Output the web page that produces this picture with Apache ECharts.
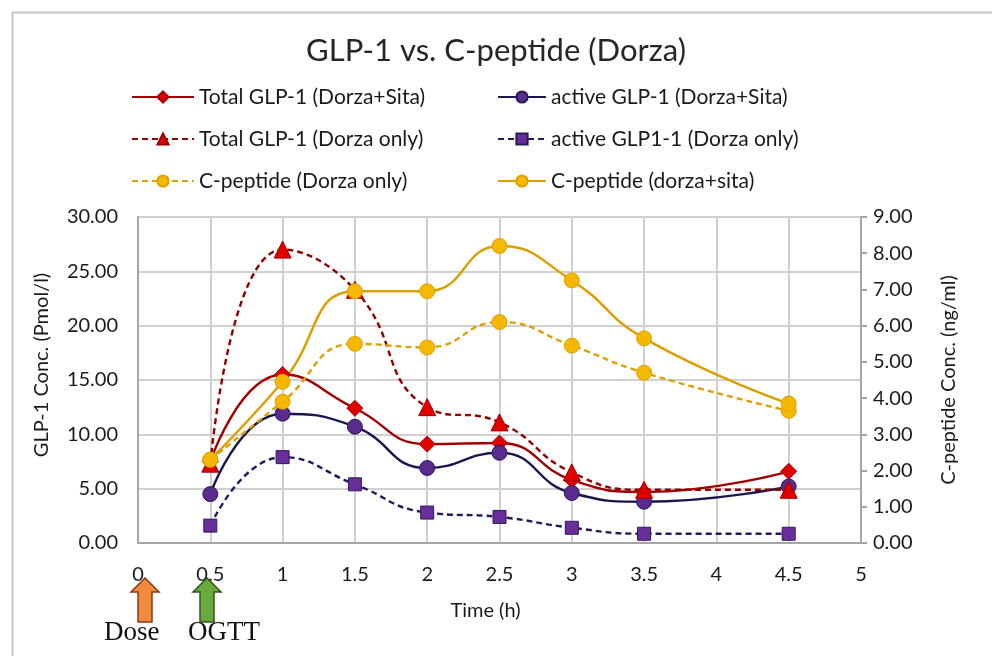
<!DOCTYPE html>
<html>
<head>
<meta charset="utf-8">
<script src="https://cdn.jsdelivr.net/npm/echarts@6/dist/echarts.min.js"></script>
<style>
  html, body { margin: 0; padding: 0; background: #fff; }
  #chart { width: 992px; height: 656px; }
</style>
</head>
<body>
<div id="chart"></div>
<script>
// Sampling times (h)
const times = [0.5, 1, 1.5, 2, 2.5, 3, 3.5, 4.5];

// GLP-1 concentrations (pmol/l), left axis
const totalGlpDorzaSita = [7.5, 15.5, 12.4, 9.1, 9.2, 5.8, 4.7, 6.6];
const activeGlpDorzaSita = [4.5, 11.9, 10.7, 6.9, 8.3, 4.6, 3.8, 5.2];
const totalGlpDorzaOnly = [7.3, 27.0, 23.3, 12.5, 11.1, 6.5, 4.9, 4.9];
const activeGlpDorzaOnly = [1.6, 7.9, 5.4, 2.8, 2.4, 1.4, 0.85, 0.85];

// C-peptide concentrations (ng/ml), right axis
const cpepDorzaOnly = [2.3, 3.9, 5.5, 5.4, 6.1, 5.45, 4.7, 3.65];
const cpepDorzaSita = [2.3, 4.45, 6.95, 6.95, 8.2, 7.25, 5.65, 3.85];

const seriesNames = [
  'Total GLP-1 (Dorza+Sita)',
  'active GLP-1 (Dorza+Sita)',
  'Total GLP-1 (Dorza only)',
  'active GLP1-1 (Dorza only)',
  'C-peptide (Dorza only)',
  'C-peptide (dorza+sita)'
];

const FONT = 'Lato';
const pairs = vals => times.map((t, i) => [t, vals[i]]);

function lineSeries(name, vals, yIdx, lineColor, dashed, symbol, size, fill, border) {
  return {
    name: name,
    type: 'line',
    yAxisIndex: yIdx,
    data: pairs(vals),
    smooth: 0.5,
    symbol: symbol,
    symbolSize: size,
    showAllSymbol: true,
    lineStyle: { color: lineColor, width: 2.4, type: dashed ? [6, 4] : 'solid' },
    itemStyle: { color: fill, borderColor: border, borderWidth: 1 },
    emphasis: { disabled: true },
    z: 3
  };
}

const chart = echarts.init(document.getElementById('chart'), null, { renderer: 'canvas' });

const legendText = { fontFamily: FONT, fontSize: 21, color: '#1a1a1a', lineHeight: 22 };
const tickText = { fontFamily: FONT, fontSize: 20, color: '#1a1a1a' };

const option = {
  animation: false,
  backgroundColor: '#fff',
  title: {
    text: 'GLP-1 vs. C-peptide (Dorza)',
    left: 'center',
    top: 30,
    textStyle: { fontFamily: FONT, fontSize: 31, fontWeight: 'normal', color: '#262626' }
  },
  legend: [
    {
      orient: 'vertical',
      left: 131,
      top: 86,
      padding: 0,
      itemWidth: 62,
      itemHeight: 14,
      itemGap: 20,
      textStyle: legendText,
      data: [seriesNames[0], seriesNames[2], seriesNames[4]]
    },
    {
      orient: 'vertical',
      left: 497,
      top: 86,
      padding: 0,
      itemWidth: 48,
      itemHeight: 14,
      itemGap: 20,
      textStyle: legendText,
      data: [seriesNames[1], seriesNames[3], seriesNames[5]]
    }
  ],
  grid: { left: 138, right: 131, top: 217, bottom: 113, containLabel: false },
  xAxis: {
    type: 'value',
    min: 0, max: 5, interval: 0.5,
    name: 'Time (h)',
    nameLocation: 'middle',
    nameGap: 58,
    nameTextStyle: Object.assign({}, tickText, { padding: [0, 28, 0, 0] }),
    axisLine: { lineStyle: { color: '#a6a6a6', width: 2 } },
    axisTick: { show: false },
    axisLabel: Object.assign({}, tickText, { margin: 22 }),
    splitLine: { show: true, lineStyle: { color: '#d0d0d0', width: 2 } }
  },
  yAxis: [
    {
      type: 'value',
      min: 0, max: 30, interval: 5,
      name: 'GLP-1 Conc. (Pmol/l)',
      nameLocation: 'middle',
      nameGap: 86,
      nameTextStyle: Object.assign({}, tickText, { padding: [0, 0, 0, 30] }),
      axisLine: { show: true, lineStyle: { color: '#a6a6a6', width: 2 } },
      axisTick: { show: false },
      axisLabel: Object.assign({}, tickText, { margin: 20, formatter: v => v.toFixed(2) }),
      splitLine: { show: true, lineStyle: { color: '#d0d0d0', width: 2 } }
    },
    {
      type: 'value',
      position: 'right',
      min: 0, max: 9, interval: 1,
      name: 'C-peptide Conc. (ng/ml)',
      nameLocation: 'middle',
      nameGap: 78,
      nameRotate: 90,
      nameTextStyle: tickText,
      axisLine: { show: true, lineStyle: { color: '#a6a6a6', width: 2 } },
      axisTick: { show: true, inside: false, length: 6, lineStyle: { color: '#a6a6a6', width: 2 } },
      axisLabel: Object.assign({}, tickText, { margin: 12, formatter: v => v.toFixed(2) }),
      splitLine: { show: false }
    }
  ],
  series: [
    lineSeries(seriesNames[0], totalGlpDorzaSita, 0, '#a00000', false, 'diamond', 16, '#e00000', '#a00000'),
    lineSeries(seriesNames[1], activeGlpDorzaSita, 0, '#1c1650', false, 'circle', 15, '#5a2a8c', '#2a1a5a'),
    lineSeries(seriesNames[2], totalGlpDorzaOnly, 0, '#8e0000', true, 'triangle', 17, '#e00000', '#a00000'),
    lineSeries(seriesNames[3], activeGlpDorzaOnly, 0, '#231a5a', true, 'rect', 13, '#6a2e9a', '#2a1a5a'),
    lineSeries(seriesNames[4], cpepDorzaOnly, 1, '#e0a000', true, 'circle', 15, '#f5b800', '#e0a000'),
    lineSeries(seriesNames[5], cpepDorzaSita, 1, '#dc9e00', false, 'circle', 15, '#f5b800', '#e0a000')
  ],
  graphic: [
    // outer frame of the chart area
    {
      type: 'rect', left: 10, top: 10, z: -1,
      shape: { width: 1000, height: 700 },
      style: { fill: 'none', stroke: '#c8c8c8', lineWidth: 2 }
    },
    // dosing arrow
    {
      type: 'polygon', z: 10,
      shape: { points: [[145, 578], [159, 592], [152, 592], [152, 622], [138, 622], [138, 592], [131, 592]] },
      style: { fill: '#f08a3c', stroke: '#8a3a10', lineWidth: 1.5 }
    },
    {
      type: 'text', z: 10, left: 104, top: 619,
      style: { text: 'Dose', font: '27px "Liberation Serif"', fill: '#111' }
    },
    // OGTT arrow
    {
      type: 'polygon', z: 10,
      shape: { points: [[207, 578], [221, 592], [214, 592], [214, 622], [200, 622], [200, 592], [193, 592]] },
      style: { fill: '#6aaa3c', stroke: '#2e5a18', lineWidth: 1.5 }
    },
    {
      type: 'text', z: 10, left: 188, top: 619,
      style: { text: 'OGTT', font: '27px "Liberation Serif"', fill: '#111' }
    }
  ]
};

chart.setOption(option);
</script>
</body>
</html>
